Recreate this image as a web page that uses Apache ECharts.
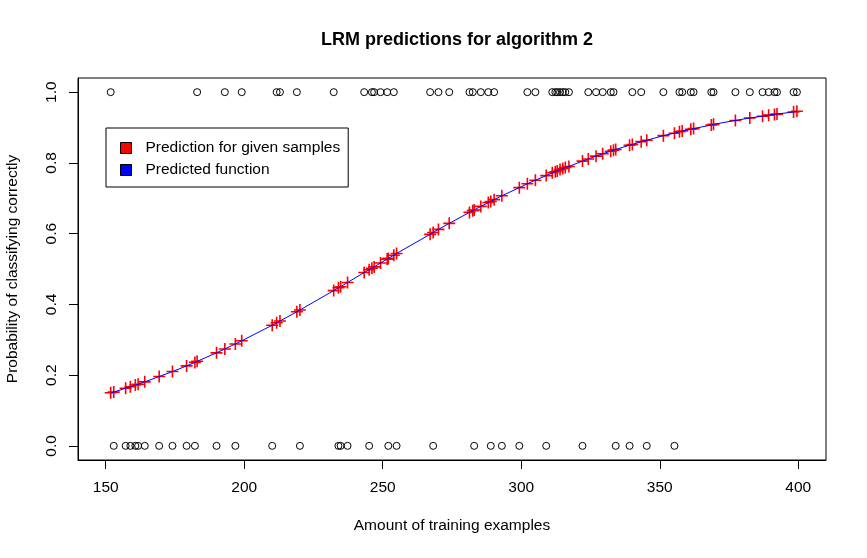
<!DOCTYPE html>
<html>
<head>
  <meta charset="utf-8">
  <title>LRM predictions for algorithm 2</title>
  <script src="https://cdn.jsdelivr.net/npm/echarts@6/dist/echarts.min.js"></script>
  <style>
    body { margin: 0; padding: 0; background: #fff; }
    #main { width: 867px; height: 558px; }
  </style>
</head>
<body>
  <div id="main"></div>
  <script>
    // samples that were classified correctly (y = 1)
    var onesX = [151.8, 183.0, 193.0, 199.1, 211.7, 212.9, 219.0, 232.3, 243.3, 246.1, 246.9, 249.2,
      251.6, 254.0, 267.1, 270.1, 274.0, 281.3, 282.5, 285.4, 288.1, 290.2, 302.2, 305.1, 311.2,
      312.3, 313.0, 314.0, 315.0, 315.9, 317.2, 324.2, 327.0, 329.4, 332.3, 333.3, 340.1, 343.3,
      351.3, 357.1, 358.1, 361.2, 362.2, 368.6, 369.4, 377.3, 382.5, 387.1, 389.3, 391.4, 392.3,
      398.3, 399.5];
    // samples that were classified wrongly (y = 0)
    var zerosX = [152.9, 157.2, 158.9, 160.7, 161.7, 164.1, 169.3, 174.1, 179.2, 182.2, 190.0, 196.8,
      210.1, 220.1, 234.0, 234.8, 237.3, 245.1, 252.0, 255.0, 268.2, 283.0, 289.0, 293.0, 299.3,
      309.0, 322.1, 334.1, 339.1, 345.3, 355.3];
    // predicted probability at every sample
    var predX = [151.8, 152.9, 157.2, 158.9, 160.7, 161.7, 164.1, 169.3, 174.1, 179.2, 182.2, 183.0,
      190.0, 193.0, 196.8, 199.1, 210.1, 211.7, 212.9, 219.0, 220.1, 232.3, 234.0, 234.8, 237.3,
      243.3, 245.1, 246.1, 246.9, 249.2, 251.6, 252.0, 254.0, 255.0, 267.1, 268.2, 270.1, 274.0,
      281.3, 282.5, 283.0, 285.4, 288.1, 289.0, 290.2, 293.0, 299.3, 302.2, 305.1, 309.0, 311.2,
      312.3, 313.0, 314.0, 315.0, 315.9, 317.2, 322.1, 324.2, 327.0, 329.4, 332.3, 333.3, 334.1,
      339.1, 340.1, 343.3, 345.3, 351.3, 355.3, 357.1, 358.1, 361.2, 362.2, 368.6, 369.4, 377.3,
      382.5, 387.1, 389.3, 391.4, 392.3, 398.3, 399.5];
    var predY = [0.150, 0.152, 0.163, 0.167, 0.172, 0.174, 0.181, 0.196, 0.210, 0.226, 0.236, 0.239,
      0.263, 0.274, 0.288, 0.297, 0.341, 0.348, 0.353, 0.379, 0.384, 0.439, 0.447, 0.450, 0.462,
      0.490, 0.498, 0.502, 0.506, 0.517, 0.528, 0.530, 0.539, 0.544, 0.598, 0.603, 0.612, 0.629,
      0.660, 0.665, 0.667, 0.677, 0.688, 0.691, 0.696, 0.707, 0.730, 0.741, 0.751, 0.764, 0.772,
      0.775, 0.777, 0.781, 0.784, 0.787, 0.790, 0.805, 0.811, 0.819, 0.826, 0.833, 0.836, 0.838,
      0.850, 0.852, 0.860, 0.864, 0.877, 0.884, 0.888, 0.890, 0.895, 0.897, 0.907, 0.909, 0.920,
      0.927, 0.932, 0.935, 0.937, 0.938, 0.944, 0.946];
    var xTicks = [150, 200, 250, 300, 350, 400];
    var yTicks = [0, 0.2, 0.4, 0.6, 0.8, 1.0];

    var font = "'Liberation Sans', Arial, sans-serif";
    var plusPath = 'path://M6,0V12M0,6H12';

    var chart = echarts.init(document.getElementById('main'));

    var points = [];
    for (var i = 0; i < predX.length; i++) points.push([predX[i], predY[i]]);
    var ones = onesX.map(function (x) { return [x, 1]; });
    var zeros = zerosX.map(function (x) { return [x, 0]; });

    var option = {
      animation: false,
      backgroundColor: '#fff',
      textStyle: { fontFamily: font },
      title: {
        text: 'LRM predictions for algorithm 2',
        left: 452,
        top: 26,
        textAlign: 'center',
        textStyle: { fontFamily: font, fontSize: 18, fontWeight: 'bold', color: '#000' }
      },
      legend: {
        orient: 'vertical',
        left: 106,
        top: 128,
        padding: [12, 8, 9, 14],
        itemGap: 6,
        itemWidth: 11,
        itemHeight: 11,
        backgroundColor: '#fff',
        borderColor: '#000',
        borderWidth: 1,
        borderRadius: 0,
        selectedMode: false,
        textStyle: { fontFamily: font, fontSize: 15.5, color: '#000', padding: [0, 0, 0, 9] },
        data: [
          { name: 'Prediction for given samples', icon: 'rect',
            itemStyle: { color: '#ff0000', borderColor: '#000', borderWidth: 1, opacity: 1 } },
          { name: 'Predicted function', icon: 'rect',
            itemStyle: { color: '#0000ff', borderColor: '#000', borderWidth: 1, opacity: 1 } }
        ]
      },
      grid: {
        left: 78, right: 41, top: 78, bottom: 98,
        show: true, borderColor: '#000', borderWidth: 1,
        outerBoundsMode: 'none'
      },
      xAxis: {
        type: 'value',
        min: 140,
        max: 410,
        name: 'Amount of training examples',
        nameLocation: 'middle',
        nameGap: 58,
        nameTextStyle: { fontFamily: font, fontSize: 15.5, color: '#000' },
        axisLine: { show: true, onZero: false, lineStyle: { color: '#000', width: 1 } },
        axisTick: { show: true, length: 9, customValues: xTicks, lineStyle: { color: '#000' } },
        axisLabel: { customValues: xTicks, margin: 20, fontFamily: font, fontSize: 15.5, color: '#000' },
        splitLine: { show: false }
      },
      yAxis: {
        type: 'value',
        min: -0.04,
        max: 1.04,
        name: 'Probability of classifying correctly',
        nameLocation: 'middle',
        nameGap: 57,
        nameTextStyle: { fontFamily: font, fontSize: 15.5, color: '#000' },
        axisLine: { show: true, onZero: false, lineStyle: { color: '#000', width: 1 } },
        axisTick: { show: true, length: 9, customValues: yTicks, lineStyle: { color: '#000' } },
        axisLabel: {
          customValues: yTicks, rotate: 90, margin: 18, fontFamily: font, fontSize: 15.5, color: '#000',
          formatter: function (v) { return v.toFixed(1); }
        },
        splitLine: { show: false }
      },
      series: [
        {
          name: 'outcome 1', type: 'scatter', data: ones, symbol: 'circle', symbolSize: 7,
          itemStyle: { color: 'transparent', borderColor: '#000', borderWidth: 1, opacity: 1 }, silent: true
        },
        {
          name: 'outcome 0', type: 'scatter', data: zeros, symbol: 'circle', symbolSize: 7,
          itemStyle: { color: 'transparent', borderColor: '#000', borderWidth: 1, opacity: 1 }, silent: true
        },
        {
          name: 'Predicted function', type: 'line', data: points, showSymbol: false,
          lineStyle: { color: '#0000ff', width: 1 }, itemStyle: { color: '#0000ff' }, silent: true
        },
        {
          name: 'Prediction for given samples', type: 'scatter', data: points,
          symbol: plusPath, symbolSize: 12,
          itemStyle: { color: 'none', borderColor: '#ff0000', borderWidth: 1.6, opacity: 1 }, silent: true
        }
      ]
    };
    chart.setOption(option);
  </script>
</body>
</html>
